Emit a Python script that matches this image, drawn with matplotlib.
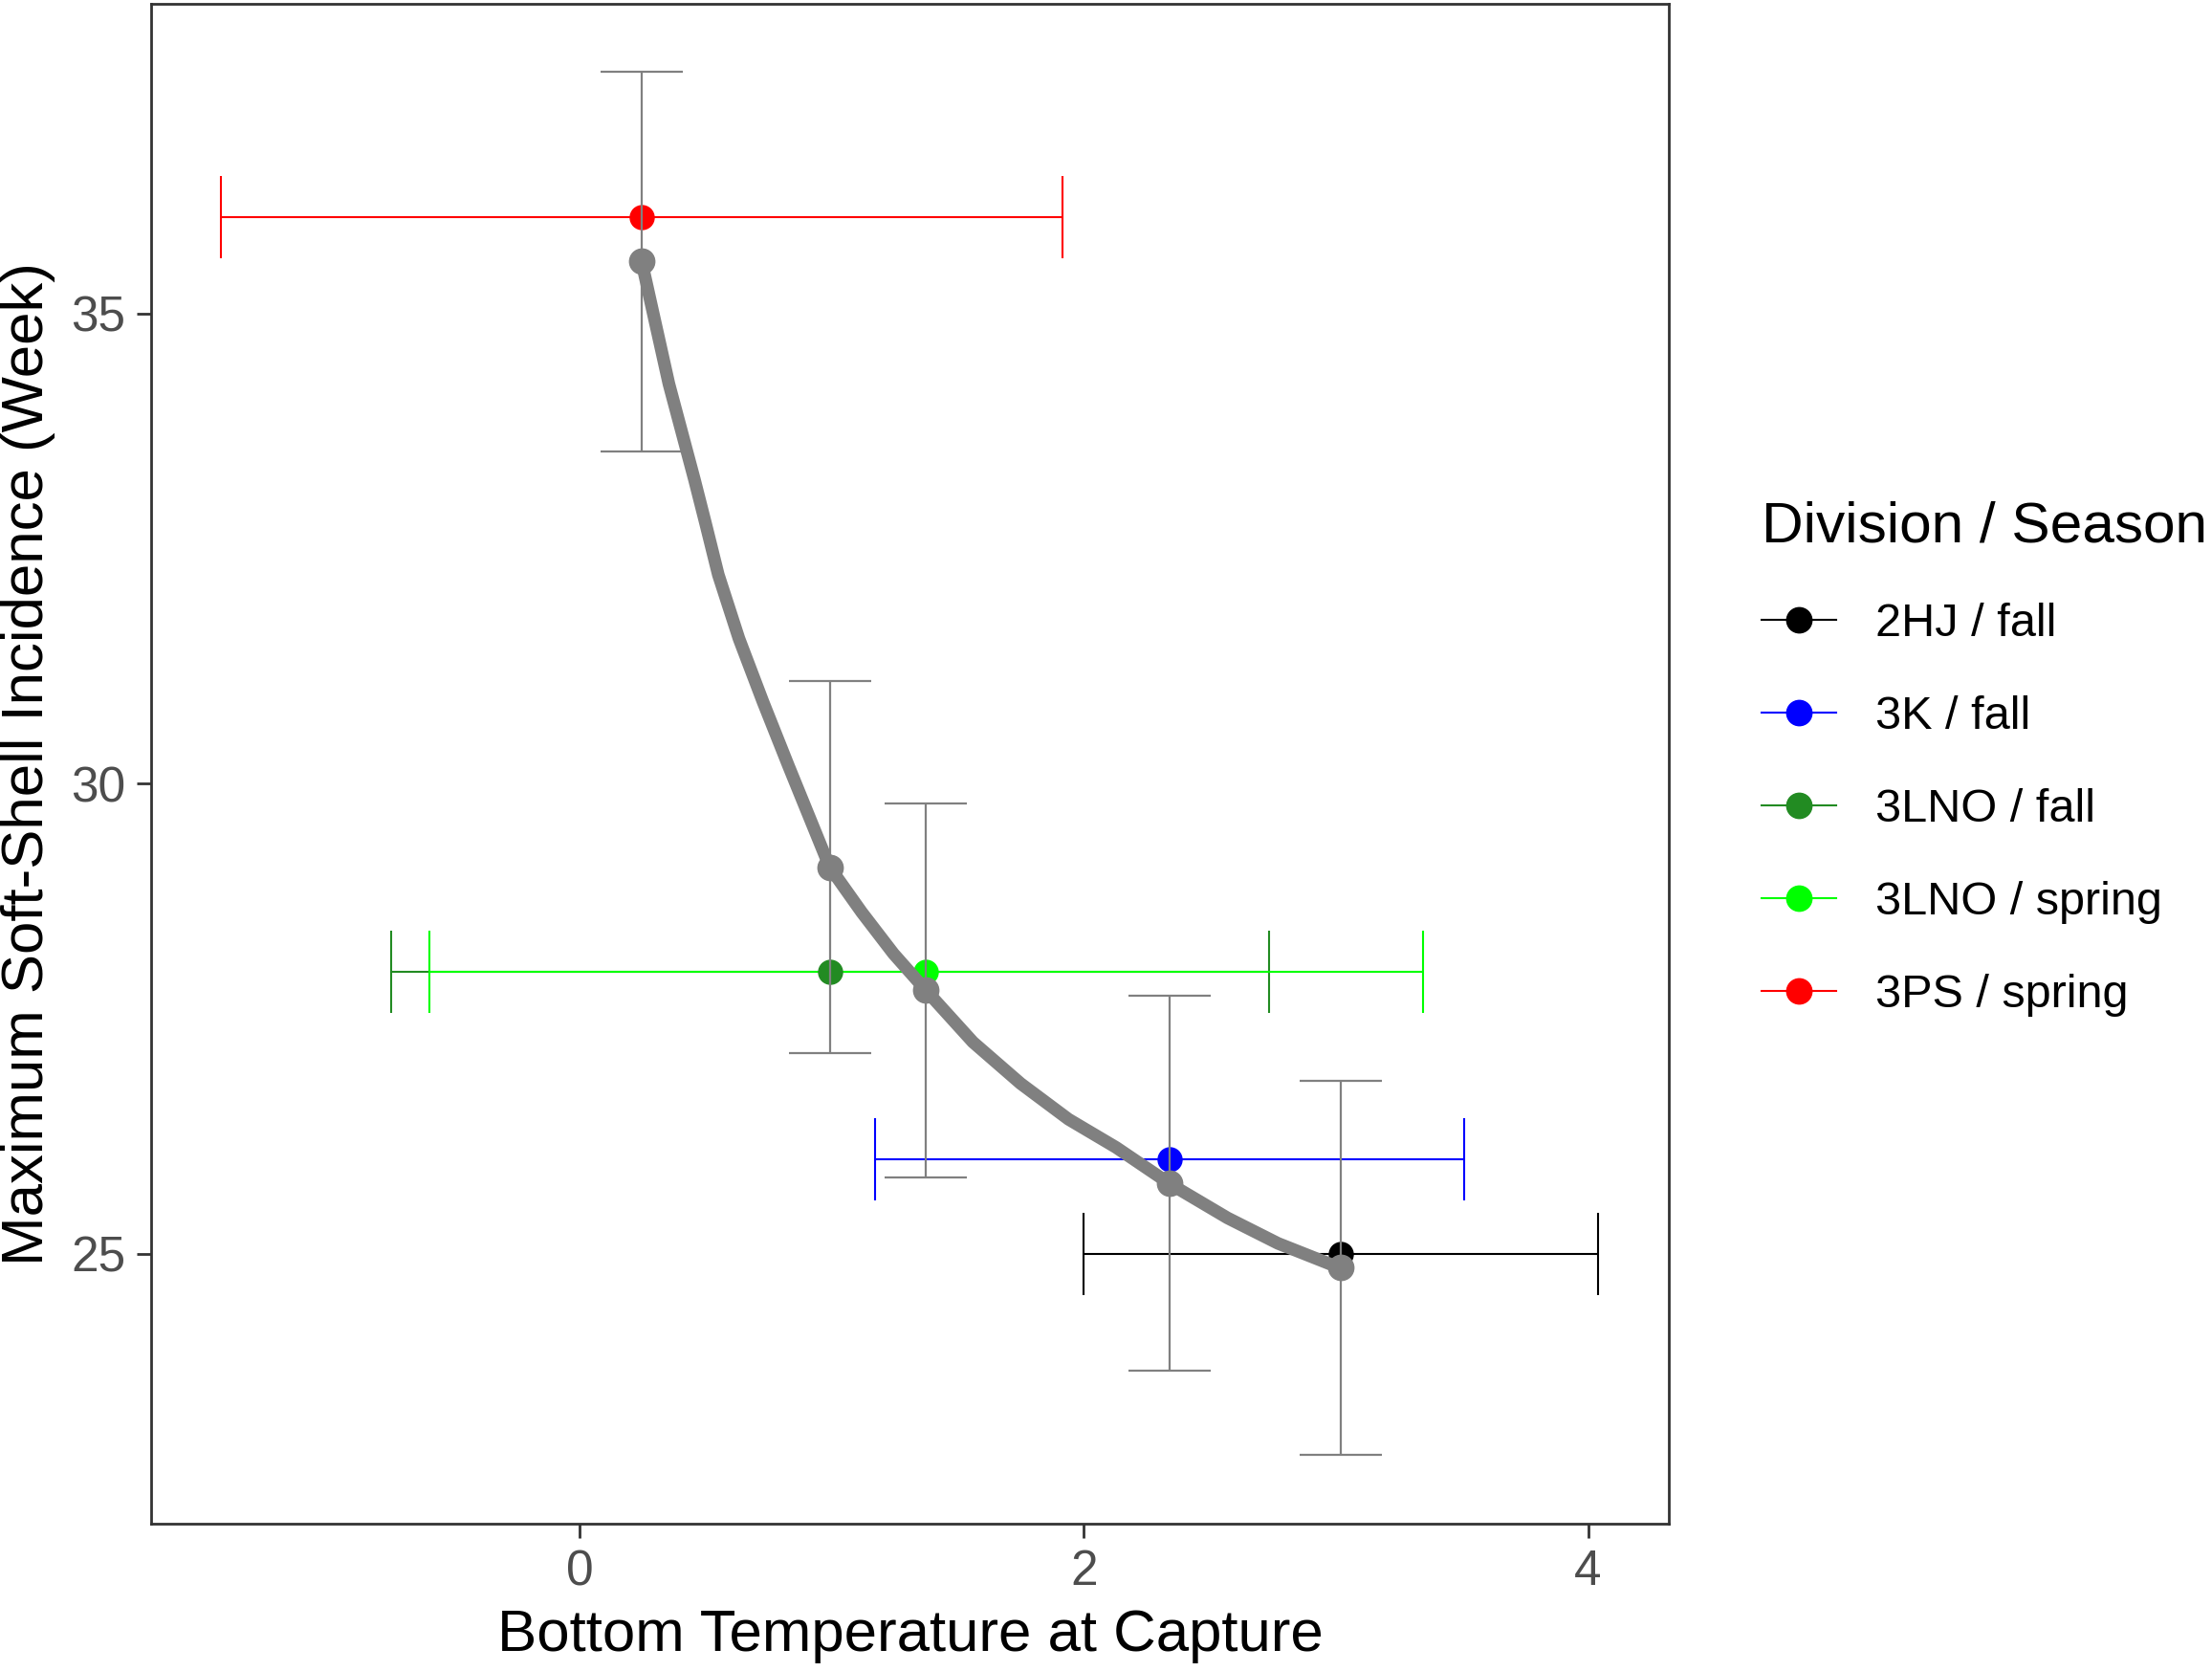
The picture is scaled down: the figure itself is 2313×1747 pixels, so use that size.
import matplotlib
matplotlib.use('Agg')
import matplotlib.pyplot as plt
from matplotlib.lines import Line2D

plt.rcParams['font.family'] = ['Liberation Sans', 'DejaVu Sans']

# observed: mean temperature (+/- sd) and week of max soft-shell incidence
grupy = ['2HJ / fall', '3K / fall', '3LNO / fall', '3LNO / spring', '3PS / spring']
kolory = ['#000000', '#0000FF', '#228B22', '#00FF00', '#FF0000']
temp = [3.02, 2.34, 0.994, 1.374, 0.246]
temp_sd = [1.02, 1.17, 1.74, 1.97, 1.67]
tydzien = [25.0, 26.0, 28.0, 28.0, 36.02]

# fitted values (+/- error) at each group temperature
fit_temp = [0.246, 0.994, 1.374, 2.34, 3.02]
fit_tydzien = [35.55, 29.11, 27.80, 25.75, 24.85]
fit_err = [2.02, 1.98, 1.99, 1.99, 1.99]

# fitted curve read along its length
krzywa_x = [0.246, 0.354, 0.4555, 0.50, 0.55, 0.632, 0.727, 0.828, 0.992, 1.119,
            1.245, 1.374, 1.560, 1.749, 1.939, 2.128, 2.343, 2.57, 2.77, 3.024]
krzywa_y = [35.55, 34.25, 33.23, 32.76, 32.22, 31.54, 30.87, 30.19, 29.11, 28.63,
            28.19, 27.80, 27.25, 26.81, 26.43, 26.13, 25.74, 25.38, 25.11, 24.84]

fig = plt.figure(figsize=(23.13, 17.47), dpi=100)
ax = fig.add_axes([0.0683, 0.0882, 0.6861, 0.9095])

for i in range(len(grupy)):
    ax.errorbar(temp[i], tydzien[i], xerr=temp_sd[i], fmt='none', ecolor=kolory[i],
                elinewidth=1.5, capsize=31, capthick=1.5, zorder=2)
for i in range(len(grupy)):
    ax.plot(temp[i], tydzien[i], 'o', color=kolory[i], markersize=18, zorder=3)

ax.errorbar(fit_temp, fit_tydzien, yerr=fit_err, fmt='none', ecolor='#808080',
            elinewidth=1.6, capsize=31, capthick=1.6, zorder=4)
ax.plot(krzywa_x, krzywa_y, color='#808080', linewidth=9.5, solid_capstyle='round',
        solid_joinstyle='round', zorder=5)
ax.plot(fit_temp, fit_tydzien, 'o', color='#808080', markersize=19, zorder=6)

ax.set_xlim(-1.70, 4.32)
ax.set_ylim(22.13, 38.29)
ax.set_xticks([0, 2, 4])
ax.set_yticks([25, 30, 35])
ax.tick_params(axis='both', labelsize=37, labelcolor='#4D4D4D', color='#333333',
               length=11, width=2, pad=8)
for s in ax.spines.values():
    s.set_color('#333333')
    s.set_linewidth(2)

ax.set_xlabel('Bottom Temperature at Capture', fontsize=44.5, labelpad=10)
ax.set_ylabel('Maximum Soft-Shell Incidence (Week)', fontsize=44.5, labelpad=12)

uchwyty = [Line2D([0], [0], color=c, marker='o', markersize=19, linewidth=1.5)
           for c in kolory]
leg = fig.legend(uchwyty, grupy, title='Division / Season', loc='center left',
                 bbox_to_anchor=(0.786, 0.546), frameon=False, fontsize=35,
                 title_fontsize=43.5, handlelength=1.6, handletextpad=0.85,
                 labelspacing=1.07, borderpad=0)
leg._legend_box.align = 'left'

fig.savefig('out.png', dpi=100)
